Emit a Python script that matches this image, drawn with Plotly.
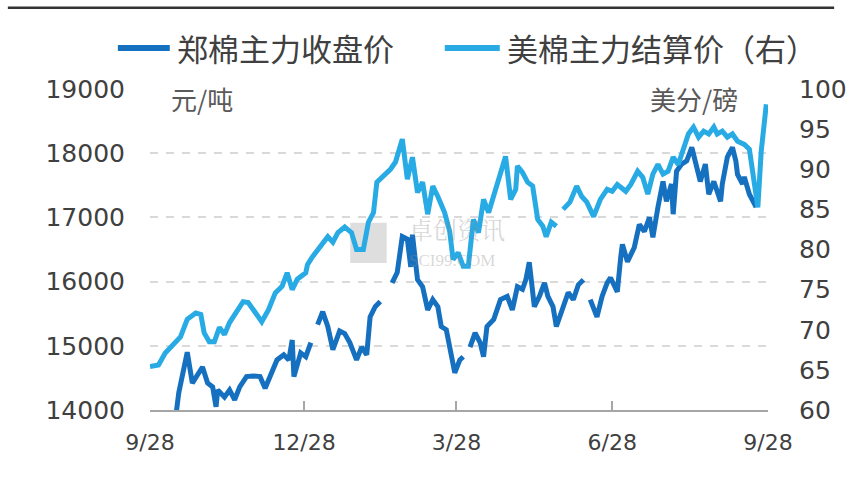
import plotly.graph_objects as go

# ---- data ----
zce_dates = [
    "2017-10-13", "2017-10-15", "2017-10-20", "2017-10-23", "2017-10-29", "2017-11-01", "2017-11-04",
    "2017-11-06", "2017-11-07", "2017-11-11", "2017-11-14", "2017-11-17", "2017-11-20", "2017-11-24",
    "2017-11-28", "2017-12-02", "2017-12-05", "2017-12-09", "2017-12-12", "2017-12-16", "2017-12-19",
    "2017-12-21", "2017-12-22", "2017-12-26", "2017-12-29", "2018-01-01", "2018-01-03",
    "2018-01-05", "2018-01-08", "2018-01-11", "2018-01-14", "2018-01-18", "2018-01-21", "2018-01-24",
    "2018-01-28", "2018-01-31", "2018-02-03", "2018-02-05", "2018-02-08", "2018-02-11", "2018-02-14",
    "2018-02-18", "2018-02-21", "2018-02-24", "2018-02-27", "2018-03-01", "2018-03-02", "2018-03-05",
    "2018-03-08", "2018-03-11", "2018-03-14", "2018-03-17", "2018-03-19", "2018-03-22", "2018-03-25",
    "2018-03-27", "2018-03-30", "2018-04-01", "2018-04-03",
    "2018-04-05", "2018-04-08", "2018-04-11", "2018-04-13", "2018-04-15", "2018-04-19", "2018-04-23",
    "2018-04-27", "2018-04-30", "2018-05-03", "2018-05-06", "2018-05-08", "2018-05-10", "2018-05-13",
    "2018-05-16", "2018-05-19", "2018-05-21", "2018-05-24", "2018-05-26", "2018-05-30", "2018-06-02",
    "2018-06-05", "2018-06-08", "2018-06-11", "2018-06-13",
    "2018-06-15", "2018-06-19", "2018-06-22", "2018-06-25", "2018-06-27", "2018-07-01", "2018-07-03",
    "2018-07-04", "2018-07-07", "2018-07-11", "2018-07-14", "2018-07-17", "2018-07-20", "2018-07-22",
    "2018-07-25", "2018-07-28", "2018-07-30", "2018-08-02", "2018-08-03", "2018-08-05", "2018-08-08",
    "2018-08-11", "2018-08-14", "2018-08-17", "2018-08-19", "2018-08-22", "2018-08-24", "2018-08-27",
    "2018-08-31", "2018-09-01", "2018-09-04", "2018-09-07", "2018-09-09", "2018-09-10", "2018-09-13",
    "2018-09-14", "2018-09-17", "2018-09-21",
]
zce_close = [
    13850, 14270, 14900, 14420, 14670, 14420, 14360,
    14050, 14310, 14200, 14310, 14160, 14360, 14520,
    14530, 14520, 14340, 14580, 14780, 14860, 14780,
    15090, 14520, 14890, 14830, 15050, None,
    15330, 15530, 15300, 14940, 15230, 15190, 15050,
    14780, 14980, 14860, 15450, 15610, 15690, None,
    15980, 16140, 16700, 16660, 16230, 16730, 16030,
    15920, 15560, 15720, 15610, 15300, 15250, 14780,
    14580, 14780, 14830, None,
    14980, 15200, 15050, 14830, 15300, 15410, 15720,
    15770, 15560, 15920, 15880, 16030, 16300, 15610,
    15770, 15980, 15770, 15610, 15300, 15610, 15830,
    15720, 15950, 16030, None,
    15720, 15450, 15770, 15980, 16060, 15840, 16380,
    16580, 16310, 16530, 16890, 16780, 17000, 16690,
    17160, 17560, 17250, 17520, 17050, 17720, 17830,
    17880, 18090, 17780, 17560, 17830, 17360, 17560,
    17250, 17520, 17940, 18090, 17880, 17670, 17520,
    17630, 17360, 17160,
]

ice_dates = [
    "2017-09-28", "2017-10-03", "2017-10-07", "2017-10-11", "2017-10-16", "2017-10-20", "2017-10-25",
    "2017-10-28", "2017-10-30", "2017-11-02", "2017-11-05", "2017-11-08", "2017-11-11", "2017-11-14",
    "2017-11-18", "2017-11-22", "2017-11-25", "2017-11-29", "2017-12-03", "2017-12-07", "2017-12-11",
    "2017-12-15", "2017-12-18", "2017-12-21", "2017-12-24", "2017-12-29", "2017-12-30", "2018-01-02",
    "2018-01-05", "2018-01-08", "2018-01-11", "2018-01-14", "2018-01-17", "2018-01-21", "2018-01-25",
    "2018-01-28", "2018-02-01", "2018-02-04", "2018-02-07", "2018-02-09", "2018-02-13", "2018-02-17",
    "2018-02-20", "2018-02-24", "2018-02-27", "2018-03-02", "2018-03-05", "2018-03-08", "2018-03-11",
    "2018-03-14", "2018-03-17", "2018-03-21", "2018-03-24", "2018-03-26", "2018-03-29", "2018-04-01",
    "2018-04-04", "2018-04-07", "2018-04-10", "2018-04-13", "2018-04-16", "2018-04-19", "2018-04-23",
    "2018-04-26", "2018-04-29", "2018-05-02", "2018-05-03", "2018-05-06", "2018-05-09", "2018-05-12",
    "2018-05-15", "2018-05-18", "2018-05-20", "2018-05-23", "2018-05-26", "2018-05-28",
    "2018-05-30", "2018-06-03", "2018-06-07", "2018-06-10", "2018-06-13", "2018-06-17", "2018-06-21",
    "2018-06-25", "2018-06-28", "2018-07-01", "2018-07-06", "2018-07-09", "2018-07-13", "2018-07-16",
    "2018-07-19", "2018-07-22", "2018-07-25", "2018-07-28", "2018-07-31", "2018-08-03", "2018-08-06",
    "2018-08-09", "2018-08-12", "2018-08-15", "2018-08-18", "2018-08-21", "2018-08-24", "2018-08-27",
    "2018-08-29", "2018-09-01", "2018-09-04", "2018-09-07", "2018-09-10", "2018-09-14", "2018-09-17",
    "2018-09-22", "2018-09-24", "2018-09-27",
]
ice_settle = [
    65.4, 65.6, 67.1, 67.9, 69.1, 71.3, 72.1,
    71.9, 69.6, 68.5, 68.5, 70.3, 69.4, 70.9,
    72.1, 73.5, 73.4, 72.1, 71.0, 72.5, 74.6,
    75.4, 77.1, 75.0, 76.3, 77.1, 78.1, 79.1,
    80.0, 80.9, 81.6, 80.9, 82.1, 82.8, 82.1,
    80.0, 80.0, 83.4, 84.6, 88.4, 89.1, 90.0,
    90.9, 93.75, 88.75, 91.5, 87.1, 88.4, 84.4,
    87.9, 86.6, 84.6, 82.25, 78.75, 79.6, 77.9,
    77.9, 83.75, 82.1, 86.25, 84.6, 86.6, 89.1,
    91.6, 86.25, 87.5, 90.4, 89.6, 88.4, 87.9,
    83.75, 82.9, 81.6, 83.4, 82.9, None,
    85.0, 85.9, 87.9, 86.6, 85.9, 84.1, 86.25,
    87.5, 87.25, 88.1, 87.25, 88.1, 89.75, 89.0,
    86.9, 89.4, 90.6, 89.4, 89.75, 91.5, 90.6,
    92.75, 94.4, 95.25, 94.0, 94.75, 94.4, 95.25,
    94.4, 94.75, 94.0, 94.4, 93.5, 93.1, 92.5,
    85.25, 92.25, 98.1,
]

x_tick_vals = ["2017-09-28", "2017-12-28", "2018-03-28", "2018-06-28", "2018-09-28"]
x_tick_text = ["9/28", "12/28", "3/28", "6/28", "9/28"]
left_ticks = [14000, 15000, 16000, 17000, 18000, 19000]
right_ticks = [60, 65, 70, 75, 80, 85, 90, 95, 100]

series_names = ["郑棉主力收盘价", "美棉主力结算价（右）"]
unit_left = "元/吨"
unit_right = "美分/磅"

DARK = "#1670c0"
LIGHT = "#28aae4"
CJK = "Noto Sans CJK SC"

fig = go.Figure()
fig.add_trace(go.Scatter(x=zce_dates, y=zce_close, name=series_names[0], mode="lines",
                         line=dict(color=DARK, width=5), connectgaps=False, yaxis="y",
                         showlegend=False))
fig.add_trace(go.Scatter(x=ice_dates, y=ice_settle, name=series_names[1], mode="lines",
                         line=dict(color=LIGHT, width=5), connectgaps=False, yaxis="y2",
                         showlegend=False))

fig.update_layout(
    width=849, height=479,
    margin=dict(l=150, r=81, t=89, b=69, autoexpand=False),
    paper_bgcolor="white", plot_bgcolor="white",
    showlegend=False,
    xaxis=dict(type="date", range=["2017-09-28", "2018-09-28"], tickmode="array",
               tickvals=x_tick_vals, ticktext=x_tick_text, showgrid=False,
               showline=True, linecolor="#a6a6a6", linewidth=2,
               ticks="inside", ticklen=9, tickwidth=2, tickcolor="#a6a6a6",
               ticklabelstandoff=12,
               tickfont=dict(family="DejaVu Sans", size=22, color="#404040"), zeroline=False),
    yaxis=dict(range=[14000, 19000], tickvals=left_ticks, tickformat="d", showgrid=True,
               gridcolor="#d9d9d9", gridwidth=1.5, griddash="8px,8px",
               showline=False, zeroline=False, ticks="", ticklabelstandoff=24,
               tickfont=dict(family="DejaVu Sans", size=25, color="#404040")),
    yaxis2=dict(range=[60, 100], tickvals=right_ticks, tickformat="d", overlaying="y", side="right",
                showgrid=False, showline=False, zeroline=False, ticks="", ticklabelstandoff=30,
                tickfont=dict(family="DejaVu Sans", size=25, color="#404040")),
)

# top rule line
fig.add_shape(type="line", xref="paper", yref="paper", x0=-0.23, x1=1.107, y0=1.253, y1=1.253,
              line=dict(color="#333333", width=2.5))

# legend (key lines + labels)
legend_keys = [
    dict(color=DARK, x0=-0.052, x1=0.032, tx=0.040, label=series_names[0]),
    dict(color=LIGHT, x0=0.477, x1=0.566, tx=0.574, label=series_names[1]),
]
for k in legend_keys:
    fig.add_shape(type="line", xref="paper", yref="paper", x0=k["x0"], x1=k["x1"], y0=1.128, y1=1.128,
                  line=dict(color=k["color"], width=6))
    fig.add_annotation(text=k["label"], xref="paper", yref="paper", x=k["tx"], y=1.128,
                       xanchor="left", yanchor="middle", showarrow=False,
                       font=dict(family=CJK, size=31, color="#404040"))

# unit labels
fig.add_annotation(text=unit_left, xref="paper", yref="paper", x=0.03, y=0.97, xanchor="left",
                   yanchor="middle", showarrow=False, font=dict(family=CJK, size=26, color="#595959"))
fig.add_annotation(text=unit_right, xref="paper", yref="paper", x=0.955, y=0.97, xanchor="right",
                   yanchor="middle", showarrow=False, font=dict(family=CJK, size=26, color="#595959"))

# watermark
fig.add_shape(type="rect", xref="paper", yref="paper", x0=0.324, x1=0.383, y0=0.458, y1=0.583,
              fillcolor="rgba(160,160,160,0.35)", line=dict(width=0), layer="below")
fig.add_annotation(text="卓创资讯", xref="paper", yref="paper", x=0.416, y=0.565, xanchor="left",
                   yanchor="middle", showarrow=False,
                   font=dict(family="Noto Serif CJK SC, " + CJK, size=24, color="rgba(140,140,140,0.35)"))
fig.add_annotation(text="SCI99.COM", xref="paper", yref="paper", x=0.416, y=0.465, xanchor="left",
                   yanchor="middle", showarrow=False,
                   font=dict(family="Liberation Serif", size=17, color="rgba(140,140,140,0.35)"))

fig.write_html("out.html")
